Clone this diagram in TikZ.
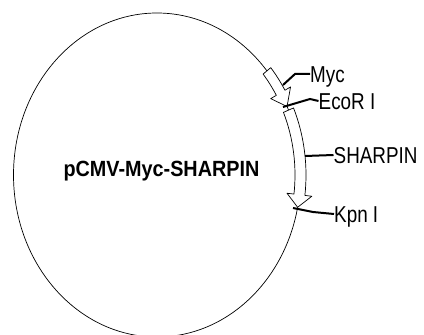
\documentclass[tikz,border=0pt]{standalone}
\usepackage{fontspec}
\setmainfont{Liberation Sans}
\newfontfamily\narrowsans[FakeStretch=0.82]{Liberation Sans}
\newfontfamily\widesans[FakeStretch=0.9]{Liberation Sans}
\usepackage{tikz}
\usetikzlibrary{positioning}
\tikzset{
	lbl/.style={font=\narrowsans\fontsize{23}{26}\selectfont, inner sep=0pt, anchor=west, text height=16.5pt, text depth=0pt},
	leader/.style={line width=2pt},
	gene/.style={draw, fill=white, line width=0.7pt, line join=round}
}

\begin{document}
\begin{tikzpicture}[x=1pt, y=1pt]
		\useasboundingbox (0,0) rectangle (424,335);
		% Plasmid
		\coordinate (ctr) at (157,160);
		\draw[line width=0.7pt] (ctr) ellipse [x radius=143.5, y radius=162];
		\node[anchor=base, inner sep=0pt, font=\widesans\fontsize{22}{26}\selectfont\bfseries] (plasmid) at (161.5,158.3) {pCMV-Myc-SHARPIN};
		
		% Myc tag
		\draw[gene] ([shift={(ctr)}]40:148.5 and 167) arc[start angle=40, end angle=30.5, x radius=148.5, y radius=167]
			-- ([shift={(ctr)}]30.5:155 and 173.5) -- ([shift={(ctr)}]25:143.5 and 162)
			-- ([shift={(ctr)}]30.5:132 and 150.5) -- ([shift={(ctr)}]30.5:138.5 and 157)
			arc[start angle=30.5, end angle=40, x radius=138.5, y radius=157] -- cycle;
		
		% SHARPIN insert
		\draw[gene] ([shift={(ctr)}]23.6:149 and 167.5) arc[start angle=23.6, end angle=-7, x radius=149, y radius=167.5]
			-- ([shift={(ctr)}]-7:156 and 174.5) -- ([shift={(ctr)}]-11.5:143.5 and 162)
			-- ([shift={(ctr)}]-7:131 and 149.5) -- ([shift={(ctr)}]-7:138 and 156.5)
			arc[start angle=-7, end angle=23.6, x radius=138, y radius=156.5] -- cycle;
		
		% Sites
		\coordinate (mycsite) at (283,250);
		\coordinate (ecosite) at (283,228);
		\coordinate (sharpsite) at (305,179);
		\coordinate (kpnsite) at (293,127);
		
		% Labels
		\node[lbl] (myc) at (310,261) {Myc};
		\node[lbl] (eco) at (318.5,234) {EcoR I};
		\node[lbl] (sharpin) at (333.5,180) {SHARPIN};
		\node[lbl] (kpn) at (334,121) {Kpn I};
		
		\draw[leader] (mycsite) -- ++(12,11) -- (myc.west);
		\draw[leader] (ecosite) -- ++(27,8) -- (eco.west);
		\draw[leader] (sharpsite) -- (sharpin.west);
		\draw[leader] (kpnsite) -- ++(20,-4) -- (kpn.west);
	\end{tikzpicture}
\end{document}
